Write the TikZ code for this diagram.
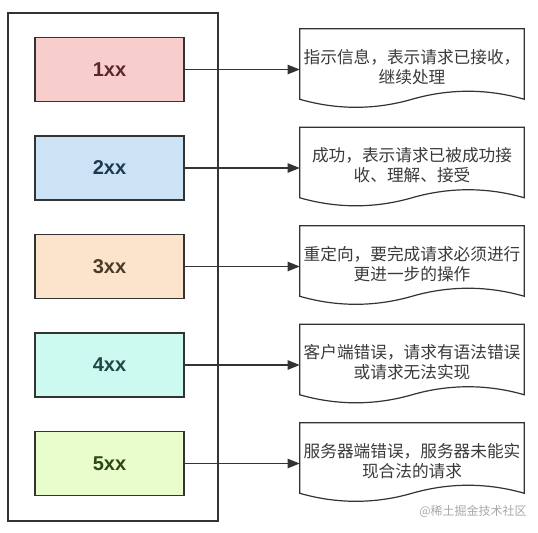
\documentclass[tikz,border=0pt]{standalone}
\usepackage{fontspec}
\setmainfont{Liberation Sans}
\newfontfamily\cjk{Noto Sans CJK SC}
\usetikzlibrary{arrows.meta,calc}
\definecolor{lineC}{HTML}{333333}
\definecolor{txtC}{HTML}{3A3A3A}
\definecolor{fillA}{HTML}{F8CECC}\definecolor{txtA}{HTML}{5A2828}
\definecolor{fillB}{HTML}{CCE3F6}\definecolor{txtB}{HTML}{1F3850}
\definecolor{fillC}{HTML}{FCE4CC}\definecolor{txtC2}{HTML}{4A3A28}
\definecolor{fillD}{HTML}{CCFAF0}\definecolor{txtD}{HTML}{1F4848}
\definecolor{fillE}{HTML}{E8FCCC}\definecolor{txtE}{HTML}{2D4818}
\definecolor{wmC}{HTML}{A8A8A8}
\tikzset{
  x=0.75pt, y=-0.75pt,
  codebox/.style={draw=lineC, line width=1.1pt, minimum width=111.75pt, minimum height=48pt,
    inner sep=0pt, font=\fontsize{15}{17}\selectfont\bfseries},
  docbox/.style={minimum width=168pt, minimum height=52.5pt, inner sep=0pt},
  docline/.style={draw=lineC, line width=0.9pt, fill=white},
  doctext/.style={align=center, text=txtC, font=\cjk\fontsize{12.5}{15}\selectfont, inner sep=0pt},
  outerbox/.style={draw=lineC, line width=0.9pt},
  conn/.style={draw=lineC, line width=1pt, -{Triangle[length=9pt,width=7pt]}},
}
\begin{document}
\begin{tikzpicture}
\useasboundingbox (0,0) rectangle (538,532);
\draw[outerbox] (8,13) rectangle (218,521);
\foreach \i/\lab/\fc/\tc/\ta/\tb in {
  0/1xx/fillA/txtA/{指示信息，表示请求已接收，}/{继续处理},
  1/2xx/fillB/txtB/{成功，表示请求已被成功接}/{收、理解、接受},
  2/3xx/fillC/txtC2/{重定向，要完成请求必须进行}/{更进一步的操作},
  3/4xx/fillD/txtD/{客户端错误，请求有语法错误}/{或请求无法实现},
  4/5xx/fillE/txtE/{服务器端错误，服务器未能实}/{现合法的请求}} {
  \node[codebox, fill=\fc, text=\tc] (b\i) at (109.5, 69.5+98.5*\i) {\lab};
  \node[docbox] (d\i) at (412, 64+98.5*\i) {};
  \draw[docline] (d\i.north west) -- (d\i.north east) -- (d\i.south east)
    .. controls ($(d\i.south east)+(-37,-10.7)$) and ($(d\i.south)+(37,-10.7)$) .. (d\i.south)
    .. controls ($(d\i.south)+(-37,10.7)$) and ($(d\i.south west)+(37,10.7)$) .. (d\i.south west)
    -- cycle;
  \node[doctext] (t\i) at ($(d\i.center)+(0,3)$) {\ta\\\tb};
  \draw[conn] (b\i.east) -- (d\i.west |- b\i.east);
}
\node[font=\cjk\fontsize{9}{10}\selectfont, text=wmC, inner sep=0pt] (wm) at (473,511) {@稀土掘金技术社区};
\end{tikzpicture}
\end{document}
